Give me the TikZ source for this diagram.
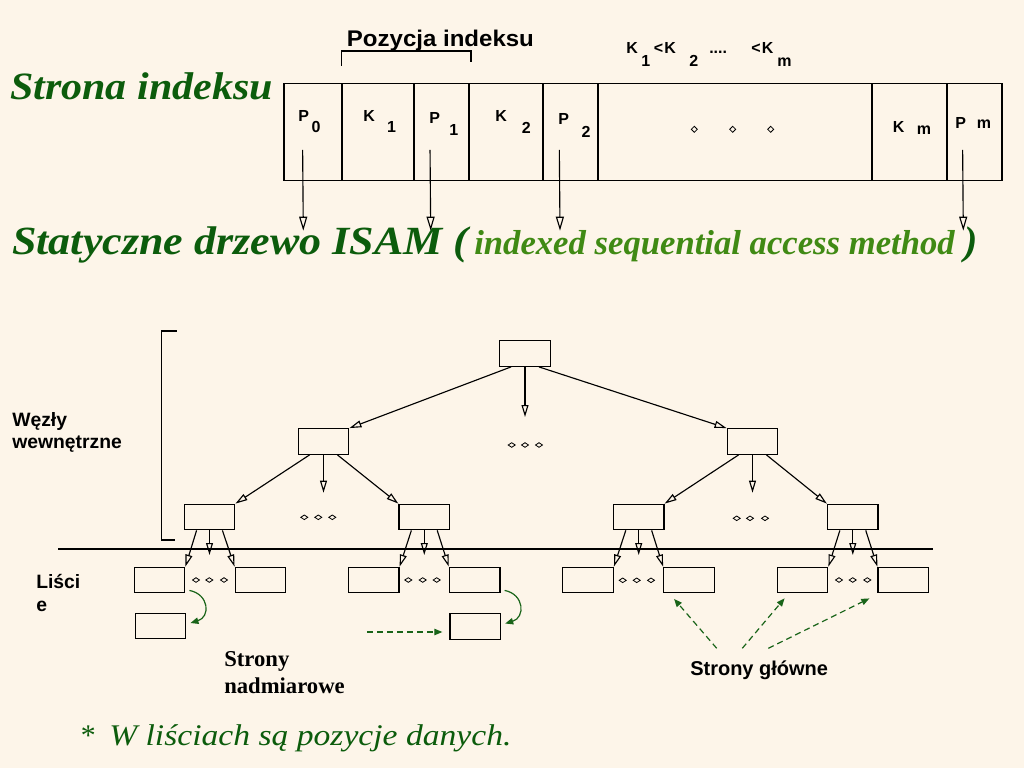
\documentclass[tikz,border=0pt]{standalone}
\usepackage{graphicx}
\usepackage{fontspec}
\setmainfont{Liberation Serif}
\newfontfamily\sansf{Liberation Sans}
\usetikzlibrary{arrows.meta,calc}
\definecolor{bgc}{RGB}{253,245,233}
\definecolor{dkg}{RGB}{12,92,12}
\definecolor{ltg}{RGB}{64,138,20}
\definecolor{arg}{RGB}{25,100,25}
\newcommand\mycell[3]{\node[cell, minimum width={(#3-#2)*0.75pt}] (#1) at ({(#2+#3)/2},132) {};}
\newcommand\mydots[4]{\draw[dotsty] (#1-3.5,#4) -- (#1,#4-2.3) -- (#1+3.5,#4) -- (#1,#4+2.3) -- cycle (#2-3.5,#4) -- (#2,#4-2.3) -- (#2+3.5,#4) -- (#2,#4+2.3) -- cycle (#3-3.5,#4) -- (#3,#4-2.3) -- (#3+3.5,#4) -- (#3,#4+2.3) -- cycle;}
\newcommand\mydia[2]{\draw[dotsty] (#1-3,#2) -- (#1,#2-3) -- (#1+3,#2) -- (#1,#2+3) -- cycle;}
\begin{document}
\begin{tikzpicture}[x=0.75pt,y=-0.75pt,
  box/.style={draw, line width=1pt, inner sep=0pt, minimum width=37.9pt, minimum height=19.1pt},
  cell/.style={draw, line width=1pt, inner sep=0pt, minimum height=73.05pt},
  txt/.style={inner sep=0pt, anchor=base west},
  lab/.style={inner sep=0pt, anchor=base west, font=\sansf\bfseries\fontsize{12}{14}\selectfont},
  arr/.style={line width=0.85pt, -{Triangle[open, length=9pt, width=5.2pt]}},
  tarr/.style={line width=0.85pt, -{Triangle[open, length=10.5pt, width=6pt]}},
  garr/.style={draw=arg, line width=0.9pt, -{Triangle[length=6pt, width=4.8pt]}, color=arg},
  gdash/.style={garr, dash pattern=on 4.5pt off 3pt},
  dotsty/.style={line width=0.6pt}
]
\fill[bgc] (0,0) rectangle (1024,768);
\useasboundingbox (0,0) rectangle (1024,768);

% ---------- index page ----------
\mycell{c0}{284}{342}
\mycell{c1}{342}{414}
\mycell{c2}{414}{469}
\mycell{c3}{469}{543}
\mycell{c4}{543}{598}
\mycell{c5}{598}{872}
\mycell{c6}{872}{947}
\mycell{c7}{947}{1002}

\node[lab] (lp0) at (298,121.7) {P\hspace{2.1pt}\raisebox{-8.25pt}{0}};
\node[lab] (lk1) at (363,121) {K\hspace{9.2pt}\raisebox{-8.8pt}{1}};
\node[lab] (lp1) at (429,123) {P\hspace{7pt}\raisebox{-9pt}{1}};
\node[lab] (lk2) at (495,121.7) {K\hspace{11.2pt}\raisebox{-8.7pt}{2}};
\node[lab] (lp2) at (558,124) {P\hspace{9.6pt}\raisebox{-10pt}{2}};
\node[lab] (lkm) at (892.7,132.7) {K\hspace{9.2pt}\raisebox{-1.7pt}{m}};
\node[lab] (lpm) at (955,128.3) {P\hspace{8.1pt}\raisebox{-0.5pt}{m}};

\mydia{694.3}{129.3}
\mydia{732.7}{129.3}
\mydia{770.7}{129.3}

\node[lab] (o1) at (626,53.3) {K};
\node[lab] (o2) at (641,66.7) {1};
\node[lab] (o3) at (653.5,53.3) {<\hspace{1pt}K};
\node[lab] (o4) at (689,66.7) {2};
\node[lab] (o5) at (709,53.3) {....};
\node[lab] (o6) at (751,53.3) {<\hspace{1pt}K};
\node[lab] (o7) at (777,66.7) {m};

\node[txt] (pi) at (346.7,46) {\sansf\bfseries\fontsize{17}{20}\selectfont\scalebox{1.06}[1]{Pozycja indeksu}};
\draw[line width=0.9pt] (341.7,65.7) -- (341.7,51) -- (471,51) -- (471,62.3);

\coordinate (e0) at (303.3,230.7);
\coordinate (e1) at (430.7,230.7);
\coordinate (e2) at (560,230.7);
\coordinate (e3) at (963.3,230.7);
\draw[tarr] ($(c0.south west)+(19.3,-31.4)$) -- (e0);
\draw[tarr] ($(c2.south west)+(16.7,-31.4)$) -- (e1);
\draw[tarr] ($(c4.south west)+(17,-31.4)$) -- (e2);
\draw[tarr] ($(c7.south west)+(16.3,-31.4)$) -- (e3);

\node[txt] (si) at (10,99) {\color{dkg}\fontsize{29}{34}\selectfont\bfseries\itshape\scalebox{1.086}[1]{Strona indeksu}};

\node[txt] (t1) at (12,254.3) {\color{dkg}\fontsize{30}{36}\selectfont\bfseries\itshape\scalebox{1.1}[1]{Statyczne drzewo ISAM (}};
\node[txt] (t2) at (474,254.3) {\color{ltg}\fontsize{26}{31}\selectfont\bfseries\itshape indexed sequential access method};
\node[txt] (t3) at (964,254.3) {\color{dkg}\fontsize{30}{36}\selectfont\bfseries\itshape )};

% ---------- tree ----------
\draw[line width=0.9pt] (176.7,331) -- (161.5,331) -- (161.5,540) -- (175,540);
\draw[line width=0.9pt] (58,549) -- (932.5,549);

\node[box] (R) at (525,353.5) {};
\node[box] (L2a) at (323.5,441.5) {};
\node[box] (L2b) at (752.5,441.5) {};
\node[box] (L3A) at (209.5,517) {};
\node[box] (L3B) at (424.3,517) {};
\node[box] (L3C) at (638.7,517) {};
\node[box] (L3D) at (852.8,517) {};
\node[box] (A1) at (159.5,580) {};
\node[box] (A2) at (260.5,580) {};
\node[box] (B1) at (373.7,580) {};
\node[box] (B2) at (474.7,580) {};
\node[box] (C1) at (588,580) {};
\node[box] (C2) at (689,580) {};
\node[box] (D1) at (802.5,580) {};
\node[box] (D2) at (903.3,580) {};
\node[box] (O1) at (160.5,626) {};
\node[box] (O2) at (475.3,626.5) {};

\coordinate (Rd) at (525,417);
\coordinate (L2ad) at (323.5,492.7);
\coordinate (L2bd) at (752.5,492.7);
\coordinate (L3Ad) at (209.5,555);
\coordinate (L3Bd) at (424.3,555);
\coordinate (L3Cd) at (638.7,555);
\coordinate (L3Dd) at (852.8,555);

\draw[arr] ($(R.south west)+(12,0)$) -- (L2a.north east);
\draw[arr] (R.south) -- (Rd);
\draw[arr] ($(R.south east)+(-12,0)$) -- (L2b.north west);

\draw[arr] ($(L2a.south west)+(12,0)$) -- (L3A.north east);
\draw[arr] (L2a.south) -- (L2ad);
\draw[arr] ($(L2a.south east)+(-12,0)$) -- (L3B.north west);
\draw[arr] ($(L2b.south west)+(12,0)$) -- (L3C.north east);
\draw[arr] (L2b.south) -- (L2bd);
\draw[arr] ($(L2b.south east)+(-12,0)$) -- (L3D.north west);

\draw[arr] ($(L3A.south west)+(13,0)$) -- (A1.north east);
\draw[arr] (L3A.south) -- (L3Ad);
\draw[arr] ($(L3A.south east)+(-13,0)$) -- (A2.north west);
\draw[arr] ($(L3B.south west)+(13,0)$) -- (B1.north east);
\draw[arr] (L3B.south) -- (L3Bd);
\draw[arr] ($(L3B.south east)+(-13,0)$) -- (B2.north west);
\draw[arr] ($(L3C.south west)+(13,0)$) -- (C1.north east);
\draw[arr] (L3C.south) -- (L3Cd);
\draw[arr] ($(L3C.south east)+(-13,0)$) -- (C2.north west);
\draw[arr] ($(L3D.south west)+(13,0)$) -- (D1.north east);
\draw[arr] (L3D.south) -- (L3Dd);
\draw[arr] ($(L3D.south east)+(-13,0)$) -- (D2.north west);

\mydots{511.7}{525}{539}{445}
\mydots{304.3}{318.3}{332.3}{517.3}
\mydots{736.7}{750}{765}{518.3}
\mydots{196}{209.3}{224}{580}
\mydots{408.3}{422.7}{436.7}{580}
\mydots{622.7}{636.7}{651}{580.3}
\mydots{839}{852.7}{867.3}{580}

% green arrows
\draw[garr] ($(A1.south east)+(4,-3)$) .. controls +(20,4) and +(20,-6) .. ($(O1.east)+(4,-3)$);
\draw[garr] ($(B2.south east)+(4,-3)$) .. controls +(20,4) and +(20,-6) .. ($(O2.east)+(4,-3)$);
\coordinate (ds) at (367,632);
\draw[gdash] (ds) -- ($(O2.west)+(-7,5.5)$);

\coordinate (g1) at (716.7,648.3);
\coordinate (g2) at (742.3,648.3);
\coordinate (g3) at (768.3,648.3);
\draw[gdash] (g1) -- ($(C2.south west)+(11,5.5)$);
\draw[gdash] (g2) -- ($(D1.south west)+(8,5)$);
\draw[gdash] (g3) -- ($(D2.south west)+(-8,5)$);

% labels
\node[txt] (w1) at (12,426.7) {\sansf\bfseries\fontsize{14.5}{17}\selectfont Węzły};
\node[txt] (w2) at (12,448.3) {\sansf\bfseries\fontsize{14.5}{17}\selectfont wewnętrzne};
\node[txt] (l1) at (36,588.3) {\sansf\bfseries\fontsize{14.5}{17}\selectfont Liści};
\node[txt] (l2) at (36,611.7) {\sansf\bfseries\fontsize{14.5}{17}\selectfont e};
\node[txt] (n1) at (224,666.7) {\bfseries\fontsize{17}{20}\selectfont Strony};
\node[txt] (n2) at (224,693.3) {\bfseries\fontsize{17}{20}\selectfont nadmiarowe};
\node[txt] (sg) at (690,675) {\sansf\bfseries\fontsize{15}{18}\selectfont Strony główne};

\node[txt] (st) at (79,745) {\color{dkg}\fontsize{22.5}{27}\selectfont\itshape *};
\node[txt] (wl) at (109,745) {\color{dkg}\fontsize{22.5}{27}\selectfont\itshape\scalebox{1.12}[1]{W liściach są pozycje danych.}};
\end{tikzpicture}
\end{document}
